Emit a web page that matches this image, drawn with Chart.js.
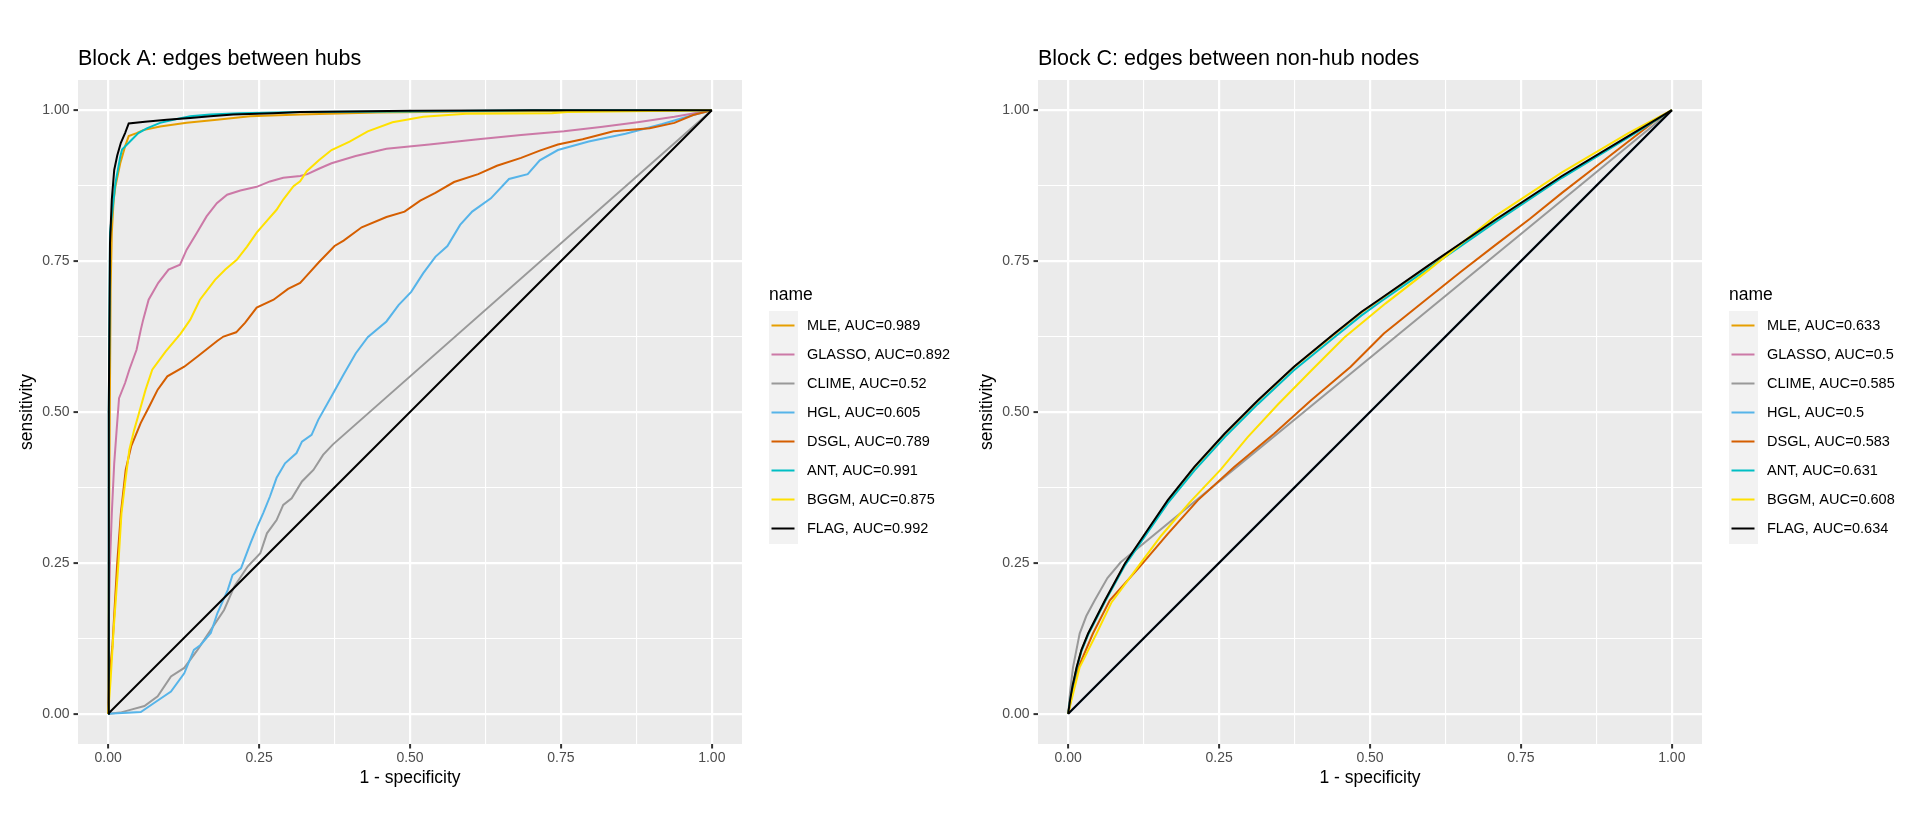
<!DOCTYPE html>
<html>
<head>
<meta charset="utf-8">
<title>ROC curves by block</title>
<script src="https://cdn.jsdelivr.net/npm/chart.js@4.4.1/dist/chart.umd.min.js"></script>
<style>
  html, body { margin: 0; padding: 0; background: #ffffff; }
  #wrap { display: flex; width: 1920px; height: 840px; }
  .panel { position: relative; width: 960px; height: 840px; }
</style>
</head>
<body>
<div id="wrap">
  <div class="panel"><canvas id="blockA"></canvas></div>
  <div class="panel"><canvas id="blockC"></canvas></div>
</div>
<script>
// methods in legend order, with AUC per block
const methods = ['MLE', 'GLASSO', 'CLIME', 'HGL', 'DSGL', 'ANT', 'BGGM', 'FLAG'];
const aucA = [0.989, 0.892, 0.52, 0.605, 0.789, 0.991, 0.875, 0.992];
const aucC = [0.633, 0.5, 0.585, 0.5, 0.583, 0.631, 0.608, 0.634];
const colours = ['#E69F00', '#CC79A7', '#999999', '#56B4E9', '#D55E00', '#00BFC4', '#FFE100', '#000000'];

const majorTicks = [0, 0.25, 0.5, 0.75, 1];
const minorTicks = [0.125, 0.375, 0.625, 0.875];

// reference line y = x
const diagonal = [[0, 0], [1, 1]];

// Block A curves: [1 - specificity, sensitivity]
const blockA_MLE = [[0,0],[0.002,0.4],[0.004,0.7],[0.006,0.797],[0.009,0.85],[0.012,0.874],[0.02,0.912],[0.028,0.94],[0.034,0.957],[0.047,0.962],[0.058,0.967],[0.086,0.973],[0.13,0.979],[0.18,0.984],[0.235,0.99],[0.318,0.993],[0.446,0.996],[0.6,0.998],[0.9,0.999],[1,1]];
const blockA_GLASSO = [[0,0],[0.001,0.15],[0.003,0.25],[0.006,0.332],[0.01,0.415],[0.014,0.47],[0.018,0.523],[0.028,0.548],[0.035,0.57],[0.047,0.603],[0.054,0.636],[0.058,0.653],[0.067,0.686],[0.083,0.714],[0.1,0.736],[0.119,0.744],[0.13,0.769],[0.147,0.797],[0.163,0.824],[0.18,0.846],[0.197,0.86],[0.219,0.867],[0.246,0.873],[0.268,0.882],[0.29,0.888],[0.318,0.891],[0.33,0.894],[0.349,0.903],[0.37,0.912],[0.41,0.924],[0.461,0.936],[0.532,0.943],[0.613,0.952],[0.684,0.959],[0.755,0.965],[0.816,0.972],[0.877,0.98],[0.938,0.989],[1,1]];
const blockA_CLIME = [[0,0],[0.02,0.002],[0.038,0.007],[0.06,0.013],[0.082,0.029],[0.104,0.062],[0.126,0.076],[0.148,0.106],[0.17,0.139],[0.192,0.172],[0.209,0.211],[0.231,0.244],[0.252,0.266],[0.263,0.299],[0.279,0.321],[0.29,0.346],[0.304,0.357],[0.321,0.385],[0.34,0.404],[0.356,0.429],[0.372,0.446],[1,1]];
const blockA_HGL = [[0,0],[0.054,0.003],[0.076,0.018],[0.104,0.037],[0.126,0.067],[0.142,0.106],[0.153,0.114],[0.17,0.134],[0.181,0.167],[0.198,0.205],[0.206,0.23],[0.22,0.241],[0.236,0.283],[0.247,0.31],[0.257,0.333],[0.268,0.36],[0.279,0.391],[0.293,0.415],[0.312,0.432],[0.321,0.451],[0.337,0.462],[0.348,0.487],[0.37,0.526],[0.39,0.562],[0.41,0.597],[0.43,0.624],[0.461,0.65],[0.481,0.677],[0.502,0.699],[0.522,0.73],[0.542,0.757],[0.562,0.775],[0.583,0.81],[0.603,0.832],[0.634,0.854],[0.664,0.886],[0.695,0.894],[0.715,0.917],[0.745,0.934],[0.796,0.948],[0.857,0.961],[0.918,0.977],[0.969,0.992],[1,1]];
const blockA_DSGL = [[0,0],[0.002,0.06],[0.007,0.112],[0.015,0.25],[0.021,0.332],[0.029,0.404],[0.038,0.443],[0.054,0.482],[0.068,0.509],[0.082,0.537],[0.098,0.559],[0.126,0.575],[0.148,0.592],[0.181,0.618],[0.191,0.625],[0.212,0.632],[0.227,0.648],[0.246,0.673],[0.274,0.686],[0.298,0.704],[0.318,0.714],[0.329,0.726],[0.349,0.748],[0.375,0.775],[0.39,0.784],[0.42,0.806],[0.461,0.823],[0.491,0.832],[0.517,0.85],[0.542,0.863],[0.573,0.881],[0.613,0.894],[0.644,0.908],[0.684,0.921],[0.715,0.933],[0.745,0.943],[0.786,0.952],[0.837,0.965],[0.897,0.97],[0.938,0.979],[0.969,0.992],[1,1]];
const blockA_ANT = [[0,0],[0.001,0.5],[0.003,0.797],[0.012,0.879],[0.02,0.923],[0.023,0.935],[0.039,0.951],[0.05,0.962],[0.064,0.97],[0.086,0.979],[0.108,0.984],[0.136,0.99],[0.169,0.993],[0.218,0.995],[0.318,0.997],[0.5,0.998],[0.705,1],[1,1]];
const blockA_BGGM = [[0,0],[0.004,0.056],[0.009,0.139],[0.017,0.25],[0.022,0.332],[0.028,0.382],[0.035,0.437],[0.043,0.47],[0.051,0.498],[0.062,0.537],[0.073,0.57],[0.095,0.6],[0.12,0.63],[0.136,0.653],[0.152,0.686],[0.177,0.719],[0.194,0.736],[0.213,0.752],[0.23,0.774],[0.246,0.797],[0.265,0.819],[0.279,0.835],[0.29,0.852],[0.307,0.874],[0.318,0.882],[0.329,0.899],[0.349,0.917],[0.37,0.934],[0.4,0.948],[0.43,0.965],[0.471,0.98],[0.522,0.989],[0.593,0.994],[0.735,0.995],[0.76,0.997],[1,1]];
const blockA_FLAG = [[0,0],[0.001,0.5],[0.003,0.78],[0.006,0.852],[0.01,0.901],[0.015,0.925],[0.021,0.946],[0.028,0.962],[0.034,0.978],[0.061,0.981],[0.097,0.984],[0.136,0.987],[0.169,0.99],[0.207,0.993],[0.273,0.995],[0.318,0.997],[0.5,0.999],[0.7,1],[1,1]];

// Block C curves
const blockC_MLE = [[0,0],[0.003,0.021],[0.007,0.044],[0.014,0.076],[0.022,0.105],[0.033,0.132],[0.061,0.187],[0.094,0.248],[0.127,0.297],[0.165,0.353],[0.209,0.408],[0.259,0.463],[0.314,0.518],[0.374,0.574],[0.441,0.629],[0.486,0.665],[0.518,0.687],[0.597,0.742],[0.707,0.817],[0.818,0.89],[0.928,0.956],[1,1]];
const blockC_GLASSO = [[0,0],[1,1]];
const blockC_CLIME = [[0,0],[0.003,0.035],[0.008,0.077],[0.019,0.133],[0.03,0.162],[0.044,0.188],[0.065,0.225],[0.087,0.251],[1,1]];
const blockC_HGL = [[0,0],[1,1]];
const blockC_DSGL = [[0,0],[0.005,0.025],[0.017,0.077],[0.041,0.133],[0.069,0.188],[0.118,0.243],[0.165,0.298],[0.215,0.354],[0.275,0.409],[0.341,0.464],[0.402,0.519],[0.468,0.575],[0.523,0.63],[0.59,0.684],[0.65,0.732],[0.707,0.776],[0.765,0.82],[0.818,0.863],[0.875,0.907],[0.928,0.948],[0.972,0.982],[1,1]];
const blockC_ANT = [[0,0],[0.003,0.021],[0.007,0.043],[0.014,0.075],[0.022,0.104],[0.033,0.131],[0.061,0.186],[0.094,0.246],[0.127,0.294],[0.165,0.349],[0.209,0.403],[0.259,0.458],[0.314,0.513],[0.374,0.569],[0.441,0.624],[0.486,0.66],[0.518,0.683],[0.597,0.738],[0.707,0.814],[0.818,0.888],[0.928,0.955],[1,1]];
const blockC_BGGM = [[0,0],[0.006,0.025],[0.019,0.077],[0.047,0.133],[0.072,0.185],[0.113,0.24],[0.154,0.295],[0.201,0.35],[0.253,0.405],[0.297,0.458],[0.347,0.512],[0.402,0.568],[0.457,0.623],[0.526,0.68],[0.597,0.735],[0.707,0.824],[0.818,0.897],[0.928,0.962],[1,1]];
const blockC_FLAG = [[0,0],[0.003,0.022],[0.007,0.045],[0.014,0.077],[0.022,0.106],[0.033,0.133],[0.061,0.188],[0.094,0.249],[0.127,0.298],[0.165,0.354],[0.209,0.409],[0.259,0.464],[0.314,0.519],[0.374,0.575],[0.441,0.63],[0.486,0.666],[0.518,0.688],[0.597,0.743],[0.707,0.818],[0.818,0.891],[0.928,0.957],[1,1]];

const curvesA = [blockA_MLE, blockA_GLASSO, blockA_CLIME, blockA_HGL, blockA_DSGL, blockA_ANT, blockA_BGGM, blockA_FLAG];
const curvesC = [blockC_MLE, blockC_GLASSO, blockC_CLIME, blockC_HGL, blockC_DSGL, blockC_ANT, blockC_BGGM, blockC_FLAG];

Chart.defaults.font.family = "'Liberation Sans', Arial, sans-serif";
Chart.defaults.color = '#000000';

const isMajor = v => majorTicks.some(t => Math.abs(t - v) < 1e-9);

// grey panel, plot title and ggplot-like legend
const ggDecor = {
  id: 'ggDecor',
  beforeDraw(chart) {
    const { ctx, chartArea: a } = chart;
    ctx.save();
    ctx.fillStyle = '#EBEBEB';
    ctx.fillRect(a.left, a.top, a.right - a.left, a.bottom - a.top);
    ctx.restore();
  },
  afterDraw(chart, args, opts) {
    const { ctx, chartArea: a } = chart;
    ctx.save();
    ctx.fillStyle = '#000000';
    ctx.textAlign = 'left';
    ctx.textBaseline = 'alphabetic';
    ctx.font = "21.5px 'Liberation Sans', Arial, sans-serif";
    ctx.fillText(opts.title, a.left, 65);

    const keyX = a.right + 27;
    ctx.font = "17.5px 'Liberation Sans', Arial, sans-serif";
    ctx.fillText('name', keyX, 299.5);

    const items = chart.data.datasets.filter(d => d.inLegend);
    ctx.fillStyle = '#F2F2F2';
    ctx.fillRect(keyX, 311, 29, 29 * items.length + 1);

    ctx.font = "14.5px 'Liberation Sans', Arial, sans-serif";
    ctx.textBaseline = 'middle';
    items.forEach((d, i) => {
      const y = 325.5 + 29 * i;
      ctx.strokeStyle = d.borderColor;
      ctx.lineWidth = 2;
      ctx.beginPath();
      ctx.moveTo(keyX + 2.5, y);
      ctx.lineTo(keyX + 25.5, y);
      ctx.stroke();
      ctx.fillStyle = '#000000';
      ctx.fillText(d.label, keyX + 38, y);
    });
    ctx.restore();
  }
};

function axisOptions(titleText, horizontal) {
  return {
    type: 'linear',
    min: -0.05,
    max: 1.05,
    afterBuildTicks: scale => {
      scale.ticks = majorTicks.concat(minorTicks).sort((p, q) => p - q).map(v => ({ value: v }));
    },
    afterFit: scale => {
      if (horizontal) scale.height = 96; else scale.width = 78;
    },
    grid: {
      color: '#FFFFFF',
      lineWidth: c => isMajor(c.tick.value) ? 2.2 : 1.1,
      tickColor: c => isMajor(c.tick.value) ? '#333333' : 'rgba(0,0,0,0)',
      tickWidth: 2,
      tickLength: 4.5,
      drawTicks: true
    },
    border: { display: false },
    ticks: {
      autoSkip: false,
      maxRotation: 0,
      padding: horizontal ? 1.5 : 4,
      color: '#4D4D4D',
      font: { size: 14 },
      callback: v => isMajor(v) ? v.toFixed(2) : ''
    },
    title: {
      display: true,
      text: titleText,
      color: '#000000',
      font: { size: 17.5 },
      padding: horizontal ? { top: 0, bottom: 51.5 } : { top: 17, bottom: 0 }
    }
  };
}

function buildDatasets(curves, auc) {
  const sets = methods.map((m, i) => ({
    label: `${m}, AUC=${auc[i]}`,
    data: curves[i],
    borderColor: colours[i],
    borderWidth: 2,
    showLine: true,
    pointRadius: 0,
    tension: 0,
    fill: false,
    inLegend: true,
    order: methods.length - i
  }));
  sets.push({
    label: 'y = x',
    data: diagonal,
    borderColor: '#000000',
    borderWidth: 2,
    showLine: true,
    pointRadius: 0,
    fill: false,
    inLegend: false,
    order: 0
  });
  return sets;
}

function makeChart(id, title, curves, auc) {
  return new Chart(document.getElementById(id), {
    type: 'scatter',
    data: { datasets: buildDatasets(curves, auc) },
    options: {
      responsive: true,
      maintainAspectRatio: false,
      animation: false,
      layout: { padding: { top: 80, right: 218, bottom: 0, left: 0 } },
      scales: {
        x: axisOptions('1 - specificity', true),
        y: axisOptions('sensitivity', false)
      },
      plugins: {
        legend: { display: false },
        tooltip: { enabled: false },
        ggDecor: { title: title }
      }
    },
    plugins: [ggDecor]
  });
}

makeChart('blockA', 'Block A: edges between hubs', curvesA, aucA);
makeChart('blockC', 'Block C: edges between non-hub nodes', curvesC, aucC);
</script>
</body>
</html>
